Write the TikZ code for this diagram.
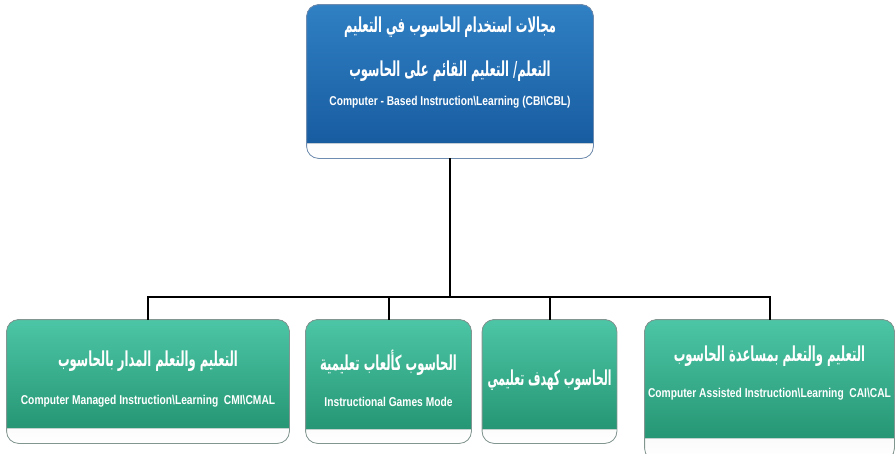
\documentclass[tikz,border=0pt]{standalone}
\usepackage{fontspec}
\usetikzlibrary{backgrounds}
\TeXXeTstate=1
\newfontfamily\arabicfont[Script=Arabic,FakeStretch=0.70]{DejaVu Sans}
\newfontfamily\narrowsans[FakeStretch=0.80]{Liberation Sans}
% Arabic line, set right to left and drawn a little taller
\newcommand{\arline}[2][1]{\scalebox{#1}[1.25]{\arabicfont\bfseries\beginR #2\endR}}

\definecolor{blueTop}{RGB}{48,128,196}
\definecolor{blueBot}{RGB}{24,92,160}
\definecolor{greenTop}{RGB}{76,198,166}
\definecolor{greenBot}{RGB}{38,150,116}
\definecolor{rimBlue}{RGB}{110,140,175}
\definecolor{rimGreen}{RGB}{130,150,145}

\tikzset{
  x=1pt, y=-1pt,
  card/.style={rectangle, rounded corners=12pt, inner sep=0pt, line width=0.8pt},
  conn/.style={draw=black, line width=2pt},
  artext/.style={text=white, inner sep=0pt, font=\fontsize{16.5}{19}\selectfont},
  entext/.style={text=white, inner sep=0pt, font=\narrowsans\bfseries\fontsize{12.8}{14}\selectfont},
}

% card body: coloured face with rounded top, pale strip with rounded bottom
\newcommand{\cardbody}[5]{% node, face colour top, face colour bottom, strip top y, rim colour
  \begin{scope}[on background layer]
    \fill[top color=gray!22, bottom color=white, rounded corners=12pt]
      (#1.north west) rectangle (#1.south east);
    \fill[top color=#2, bottom color=#3]
      (#1.west |- 0,#4) [rounded corners=12pt] -- (#1.north west) -- (#1.north east)
      [sharp corners] -- (#1.east |- 0,#4) -- cycle;
    \draw[draw=#5, line width=0.8pt, rounded corners=12pt]
      (#1.north west) rectangle (#1.south east);
  \end{scope}}

\begin{document}
\begin{tikzpicture}
\useasboundingbox (0,0) rectangle (896,453);

% top card
\node[card, minimum width=286pt, minimum height=153pt] (top) at (450,81.5) {};
\cardbody{top}{blueTop}{blueBot}{143}{rimBlue}
\node[artext] (t1) at (450,27) {\arline{مجالات استخدام الحاسوب في التعليم}};
\node[artext] (t2) at (450,71) {\arline{التعلم/ التعليم القائم على الحاسوب}};
\node[entext] (t3) at (450,102) {Computer - Based Instruction\textbackslash Learning (CBI\textbackslash CBL)};

% lower cards
\node[card, minimum width=282pt, minimum height=123pt] (b1) at (148,381.5) {};
\cardbody{b1}{greenTop}{greenBot}{428}{rimGreen}
\node[card, minimum width=165pt, minimum height=123pt] (b2) at (388.5,381.5) {};
\cardbody{b2}{greenTop}{greenBot}{429}{rimGreen}
\node[card, minimum width=134pt, minimum height=123pt] (b3) at (549.5,381.5) {};
\cardbody{b3}{greenTop}{greenBot}{429}{rimGreen}
\node[card, minimum width=249pt, minimum height=140pt] (b4) at (769.5,390) {};
\cardbody{b4}{greenTop}{greenBot}{438}{rimGreen}

\node[artext] (l1) at (148,361) {\arline{التعليم والتعلم المدار بالحاسوب}};
\node[entext] (e1) at (148,401) {Computer Managed Instruction\textbackslash Learning\ \ CMI\textbackslash CMAL};
\node[artext] (l2) at (388.5,363) {\arline{الحاسوب كألعاب تعليمية}};
\node[entext] (e2) at (388.5,402) {Instructional Games Mode};
\node[artext] (l3) at (549.5,380) {\arline[0.93]{الحاسوب كهدف تعليمي}};
\node[artext] (l4) at (769.5,356) {\arline{التعليم والتعلم بمساعدة الحاسوب}};
\node[entext] (e4) at (769.5,394) {Computer Assisted Instruction\textbackslash Learning\ \ CAI\textbackslash CAL};

% connectors
\coordinate (bus) at (450,297);
\draw[conn] (top.south) -- (bus);
\draw[conn] (bus) -| (b1.north);
\draw[conn] (bus) -| (b2.north);
\draw[conn] (bus) -| (b3.north);
\draw[conn] (bus) -| (b4.north);
\end{tikzpicture}
\end{document}
